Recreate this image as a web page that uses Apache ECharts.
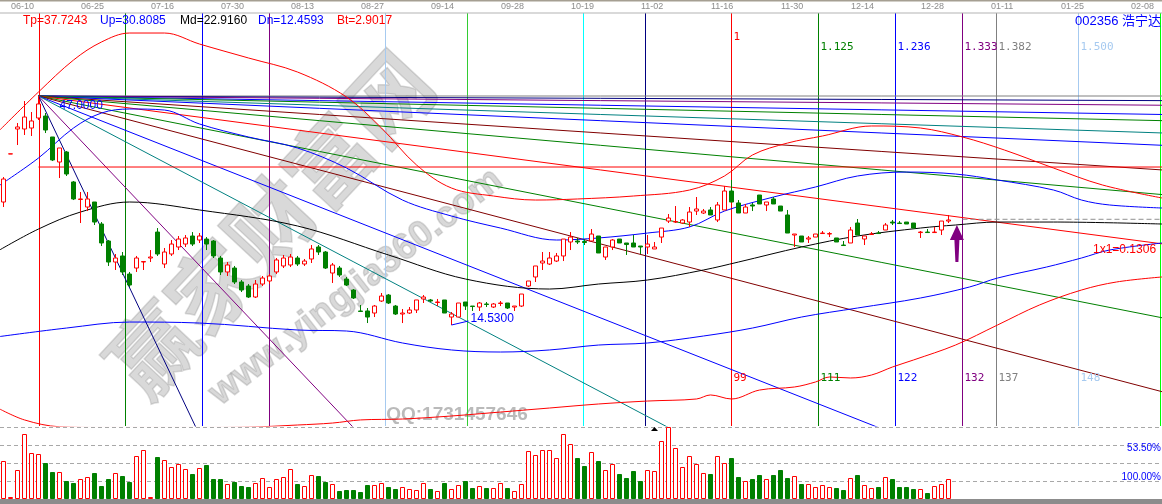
<!DOCTYPE html>
<html>
<head>
<meta charset="utf-8">
<title>002356 浩宁达</title>
<script src="https://cdn.jsdelivr.net/npm/echarts@6/dist/echarts.min.js"></script>
<style>
html,body{margin:0;padding:0;background:#fff;overflow:hidden;}
#chart{width:1162px;height:504px;}
</style>
</head>
<body>
<div id="chart"></div>
<script>
// ---------------- data ----------------
const SLOT_COUNT = 166;               // trading-day slots across the window (incl. projection)
const dateTicks = [[1,'06-10'],[11,'06-25'],[21,'07-16'],[31,'07-30'],[41,'08-13'],[51,'08-27'],
  [61,'09-14'],[71,'09-28'],[81,'10-19'],[91,'11-02'],[101,'11-16'],[111,'11-30'],[121,'12-14'],
  [131,'12-28'],[141,'01-11'],[151,'01-25'],[161,'02-08']];

// daily bars: [open, close, low, high]
const ohlc = [
[31.97,35.23,31.26,35.51],[38.78,38.80,38.78,38.80],[42.32,42.61,40.05,43.17],[42.32,44.02,41.47,46.29],
[42.46,43.46,41.33,44.73],[43.88,45.87,43.60,47.00],[44.16,42.18,41.75,44.59],[41.19,37.93,37.78,41.19],
[37.64,39.63,35.37,39.63],[39.06,35.94,35.66,39.20],[34.81,32.40,32.25,34.95],[32.33,32.40,28.99,33.39],
[31.26,32.40,30.69,33.39],[31.97,29.13,28.71,31.97],[28.85,26.16,25.73,29.13],[26.44,23.46,22.90,26.58],
[23.46,24.03,22.33,24.60],[24.32,22.05,21.62,24.88],[21.76,20.20,19.92,22.05],[22.61,24.03,22.05,24.32],
[23.46,23.53,22.33,23.53],[24.03,24.17,23.46,25.16],[27.71,24.60,24.32,28.28],[23.18,24.88,22.61,25.45],
[24.60,26.01,24.32,26.58],[25.59,26.72,25.16,27.15],[26.01,26.87,25.59,27.29],[27.15,26.01,25.73,27.71],
[26.58,27.15,26.16,27.57],[26.72,26.01,25.16,27.00],[26.44,24.32,24.03,26.58],[24.03,22.05,21.62,24.32],
[22.05,23.04,21.48,23.46],[22.61,20.63,20.34,22.90],[20.63,19.49,19.21,20.91],[20.06,18.50,18.36,20.34],
[18.50,20.34,18.36,20.91],[20.34,21.19,20.06,21.48],[20.77,21.48,20.34,21.76],[22.05,23.75,21.76,24.03],
[22.90,24.03,22.61,24.46],[23.04,24.17,22.75,24.60],[24.03,23.18,22.90,24.32],[23.18,23.60,22.90,23.89],
[23.89,25.31,23.32,25.87],[25.59,24.88,24.46,25.87],[24.88,22.61,22.47,25.02],[21.90,23.04,20.49,23.32],
[22.61,21.62,21.34,22.90],[21.05,20.20,20.06,21.34],[19.49,18.36,18.22,19.63],[16.52,16.45,16.37,17.37],
[16.52,15.66,14.81,16.94],[16.23,17.22,15.66,17.37],[17.93,18.64,17.79,19.07],[18.78,17.65,17.51,18.92],
[17.22,16.09,15.95,17.37],[16.09,16.23,14.81,16.80],[16.23,16.66,16.09,17.08],[16.66,18.08,16.23,18.08],
[18.22,18.50,17.65,18.78],[18.08,17.93,17.79,18.22],[17.72,17.79,17.22,18.22],[18.08,16.23,16.23,18.08],
[15.66,16.09,14.53,16.37],[15.66,17.65,15.66,17.65],[17.79,17.22,16.66,17.79],[17.22,17.15,16.52,17.22],
[17.08,17.65,16.52,17.79],[17.51,17.44,17.08,17.79],[17.08,17.51,16.94,17.65],[17.58,17.65,17.22,17.93],
[17.65,16.94,16.80,17.65],[17.08,17.22,16.52,17.22],[17.22,18.92,17.08,18.92],[20.06,20.77,19.92,20.77],
[21.34,22.90,20.63,22.90],[23.32,23.60,22.33,24.88],[23.18,24.03,23.04,24.88],[23.60,24.32,23.46,24.74],
[24.32,26.72,23.60,26.72],[26.30,27.00,25.16,27.71],[26.44,26.30,26.01,26.87],[26.37,26.23,25.87,26.72],
[26.44,27.43,26.44,28.14],[27.15,24.74,24.74,27.15],[24.17,25.59,23.75,25.59],[25.59,26.58,25.16,26.72],
[26.72,26.16,26.16,26.72],[26.16,25.94,24.46,26.16],[26.16,25.59,25.59,27.29],[25.73,25.59,24.60,25.73],
[25.59,26.01,24.60,27.29],[25.31,25.59,25.31,26.30],[27.00,28.28,26.16,28.28],[29.27,29.70,28.99,30.27],
[29.13,29.20,28.99,31.40],[28.99,29.42,28.85,29.56],[29.13,30.55,28.43,31.26],[30.69,30.98,30.13,32.68],
[30.41,30.69,30.27,30.98],[30.84,30.13,30.13,31.26],[29.42,31.55,29.13,31.97],[30.84,33.53,30.84,34.24],
[33.53,31.97,31.97,35.09],[31.83,30.41,30.41,32.25],[30.41,31.26,30.41,31.69],[31.55,31.40,30.69,31.83],
[32.96,31.69,31.69,32.96],[31.55,31.97,30.69,31.97],[32.40,31.69,31.69,32.68],[31.40,30.69,30.69,31.40],
[30.13,27.57,27.57,30.84],[27.29,27.43,25.59,27.43],[27.15,26.30,26.30,27.15],[26.72,26.87,26.16,27.15],
[27.00,27.43,27.00,27.43],[27.50,27.57,27.43,27.86],[27.43,27.50,27.00,27.71],[26.87,26.30,26.30,26.87],
[25.87,25.80,25.80,26.44],[26.16,28.00,26.16,28.43],[28.99,27.29,27.29,29.56],[26.72,27.15,25.87,27.15],
[27.36,27.43,27.36,27.71],[27.57,27.50,27.50,27.86],[28.00,28.71,28.00,28.99],[29.13,28.99,28.71,29.42],
[28.99,28.92,28.85,29.27],[29.13,28.85,28.85,29.13],[28.99,28.28,28.28,28.99],[27.64,27.71,26.87,27.86],
[27.71,27.64,27.64,28.14],[27.64,27.71,27.64,28.43],[28.00,29.27,27.29,29.27],[29.27,29.42,28.99,30.13]
];

// daily volume (thousand lots)
const volume = [38,2,29,65,46,45,36,27,27,18,16,20,22,26,13,20,26,23,17,43,49,2,42,39,32,35,30,25,31,34,
  20,20,15,17,13,12,16,21,12,20,22,30,15,13,24,23,17,15,8,9,9,7,14,14,16,12,10,12,10,9,
  16,10,8,16,10,14,18,11,13,11,11,16,11,8,15,48,44,49,49,41,65,55,41,33,47,38,29,35,25,21,
  28,18,29,28,58,72,51,32,43,35,26,25,43,36,41,22,18,20,24,20,24,29,21,23,15,15,12,14,12,11,
  9,21,24,14,11,12,22,20,12,12,10,10,6,13,15,20];

// channel bands: [slot, price]
const bandTp = [[-0.5,42.2],[5,47.57],[10,52.10],[14,54.66],[18,55.93],[23,55.93],[28,54.37],[35,52.39],
  [42,50.40],[49,46.86],[54,42.46],[59,37.22],[64,33.95],[70,32.82],[76,32.25],[82,32.40],[90,32.82],
  [98,33.67],[103,35.66],[107,38.64],[112,40.33],[117,41.33],[124,42.75],[131,42.46],[137,41.19],
  [143,39.34],[150,36.79],[157,34.38],[165.5,32.54]];
const bandUp = [[-0.5,34.38],[5,38.21],[10,42.46],[14,44.59],[18,45.16],[23,45.01],[28,43.03],[35,41.19],
  [42,39.63],[49,36.79],[57,32.25],[64,29.98],[71,28.28],[79,26.58],[85,26.87],[92,27.57],[98,28.43],
  [103,30.69],[110,32.68],[116,34.10],[122,35.66],[129,36.22],[136,35.94],[142,35.09],[150,33.67],
  [154,32.25],[158,31.55],[165.5,31.12]];
const bandMd = [[-0.5,25.2],[5,28.14],[11,30.55],[18,31.97],[28,30.84],[42,28.57],[55,24.46],[66,21.05],
  [78,19.63],[85,20.34],[92,20.91],[100,22.33],[105,23.46],[114,25.59],[122,27.15],[131,28.28],
  [136,28.71],[142,29.13],[150,29.13],[165.5,28.85]];
const bandDn = [[-0.5,12.9],[9,14.10],[18,14.95],[28,14.81],[42,13.82],[49,13.68],[57,11.98],[64,10.99],
  [71,10.70],[78,10.99],[85,11.69],[92,11.98],[100,12.97],[107,14.10],[114,15.66],[122,16.94],
  [131,18.36],[138,19.92],[142,21.19],[149,22.75],[154,24.03],[158,25.16],[165.5,26.16]];
const bandBt = [[-0.5,2.6],[3,1.07],[8,0.1],[14,0.0],[21,0.0],[28,0.0],[35,0.05],[42,0.35],[47,0.63],
  [51,1.07],[57,1.20],[64,1.63],[71,2.19],[78,2.76],[85,3.33],[92,3.75],[99,4.04],[101,4.61],[104,4.04],
  [108,5.31],[113,5.74],[116,6.45],[118,7.16],[121,7.02],[124,7.44],[127,8.58],[130,9.57],[136,11.69],
  [142,14.53],[148,17.37],[154,19.49],[159,20.63],[165.5,21.34]];

// Gann fan from the swing high
const pivotHigh = [5, 47.00];
const pivotLow = [64, 14.53];
const gannUnit = 0.1306;              // 1x1 slope, price per day
const fanRatios = [0, 1/32, 1/16, 1/8, 1/6, 1/4, 1/3, 1/2, 2/3, 1, 1.5, 2, 3, 4, 8, 16];
const fanColors = ['#808080','#000080','#800080','#0000ff','#008000','#008080','#0000ff','#800000',
  '#008000','#ff0000','#008000','#800000','#0000ff','#008080','#800080','#000080'];

// Fibonacci time zones measured from the high
const timeSpan = 99;
const timeRatios = [0,0.125,0.236,0.333,0.5,0.618,0.786,0.875,1,1.125,1.236,1.333,1.382,1.5,1.618];
const timeColors = ['#ff0000','#008000','#0000ff','#800080','#a6caf0','#33cc33','#00ffff','#000080',
  '#ff0000','#008000','#0000ff','#800080','#808080','#a6caf0','#00ff00'];
const timeTopLabels = {8:'1',9:'1.125',10:'1.236',11:'1.333',12:'1.382',13:'1.500'};
const timeBottomLabels = {8:'99',9:'111',10:'122',11:'132',12:'137',13:'148'};

const levelLine = 36.93;
const lastRefLine = 29.52;
const indicatorReadout = [['Tp=37.7243','#ff0000'],['Up=30.8085','#0000ff'],['Md=22.9160','#000000'],
  ['Dn=12.4593','#0000ff'],['Bt=2.9017','#ff0000']];
const volumeScaleLabels = [[54,'53.50%'],[18,'100.00%']];

// ---------------- chart ----------------
const slots = Array.from({length: SLOT_COUNT}, (_, i) => String(i));
const upColor = '#ff0000', downColor = '#008000';

const volData = volume.map((v, i) => {
  const up = ohlc[i][1] >= ohlc[i][0];
  return {value: v, itemStyle: up
    ? {color: '#ffffff', borderColor: upColor, borderWidth: 1}
    : {color: downColor, borderColor: downColor, borderWidth: 1}};
});

function bandSeries(data, color) {
  return {type: 'line', xAxisIndex: 1, yAxisIndex: 0, data, smooth: 0.35, symbol: 'none',
    lineStyle: {color, width: 1}, z: 3, silent: true};
}

const fanSeries = fanRatios.map((k, n) => ({
  type: 'line', xAxisIndex: 1, yAxisIndex: 0, symbol: 'none', silent: true, z: 2,
  lineStyle: {color: fanColors[n], width: 1},
  data: [pivotHigh, [SLOT_COUNT - 0.5, pivotHigh[1] - k * gannUnit * (SLOT_COUNT - 0.5 - pivotHigh[0])]]
}));

const option = {
  animation: false,
  backgroundColor: '#ffffff',
  grid: [
    {left: 0, right: 0, top: 13, height: 413},
    {left: 0, right: 0, top: 427, height: 72}
  ],
  xAxis: [
    {type: 'category', gridIndex: 0, data: slots, boundaryGap: true, show: false},
    {type: 'value', gridIndex: 0, min: -0.5, max: SLOT_COUNT - 0.5, show: false},
    {type: 'category', gridIndex: 1, data: slots, boundaryGap: true, show: false}
  ],
  yAxis: [
    {type: 'value', gridIndex: 0, min: 0.21, max: 58.77, show: false, scale: true},
    {type: 'value', gridIndex: 1, min: 0, max: 72, interval: 18,
      axisLine: {show: false}, axisTick: {show: false}, axisLabel: {show: false},
      splitLine: {show: true, lineStyle: {color: '#a8a8a8', type: [4, 3], width: 1}}}
  ],
  series: [
    ...fanSeries,
    {type: 'line', xAxisIndex: 1, yAxisIndex: 0, symbol: 'none', silent: true, z: 2,
      lineStyle: {color: '#ff0000', width: 1},
      data: [[pivotHigh[0], levelLine], [SLOT_COUNT - 0.5, levelLine]]},
    {type: 'line', xAxisIndex: 1, yAxisIndex: 0, symbol: 'none', silent: true, z: 2,
      lineStyle: {color: '#909090', width: 1, type: [5, 3]},
      data: [[137, lastRefLine], [SLOT_COUNT - 0.5, lastRefLine]]},
    bandSeries(bandTp, '#ff0000'),
    bandSeries(bandUp, '#0000ff'),
    bandSeries(bandMd, '#000000'),
    bandSeries(bandDn, '#0000ff'),
    bandSeries(bandBt, '#ff0000'),
    {type: 'candlestick', xAxisIndex: 0, yAxisIndex: 0, data: ohlc, barWidth: 5, z: 6, silent: true,
      itemStyle: {color: '#ffffff', color0: downColor, borderColor: upColor, borderColor0: downColor,
        borderColorDoji: upColor, borderWidth: 1}},
    {type: 'bar', xAxisIndex: 2, yAxisIndex: 1, data: volData, barWidth: 5, z: 6, silent: true}
  ]
};

const chart = echarts.init(document.getElementById('chart'), null, {renderer: 'canvas'});
chart.setOption(option);

// ---------------- annotations ----------------
const X = v => chart.convertToPixel({xAxisIndex: 1}, v);
const Y = v => chart.convertToPixel({yAxisIndex: 0}, v);
const VY = v => chart.convertToPixel({yAxisIndex: 1}, v);
const font = (size, fam, weight) => `${weight || 'normal'} ${size}px ${fam || '"Liberation Sans", Arial, sans-serif'}`;
const g = [];

// watermark
g.push({type: 'text', x: 270, y: 224, rotation: 47 * Math.PI / 180, z: 0, silent: true,
  style: {text: '赢家财富网', font: font(86, '"Noto Sans CJK SC", sans-serif', 'bold'),
    fill: 'rgba(150,150,150,0.36)', stroke: 'rgba(110,110,110,0.25)', lineWidth: 1.5,
    align: 'center', verticalAlign: 'middle'}});
g.push({type: 'text', x: 356, y: 287, rotation: 38 * Math.PI / 180, z: 0, silent: true,
  style: {text: 'www.yingjia360.com', font: font(37, null, 'bold'),
    fill: 'rgba(150,150,150,0.36)', stroke: 'rgba(110,110,110,0.25)', lineWidth: 1.5,
    align: 'center', verticalAlign: 'middle'}});
g.push({type: 'text', x: 457, y: 415, z: 0, silent: true,
  style: {text: 'QQ:1731457646', font: font(19, null, 'bold'), fill: 'rgba(140,140,140,0.6)',
    align: 'center', verticalAlign: 'middle'}});

// Fibonacci time zone verticals (snapped to whole pixels so each keeps its colour)
const paneTop = Y(58.77), paneBottom = Y(0.21);
timeRatios.forEach((r, n) => {
  const x = Math.round(X(pivotHigh[0] + r * timeSpan)) + 0.5;
  g.push({type: 'line', z: 1, silent: true, shape: {x1: x, y1: paneTop, x2: x, y2: paneBottom},
    style: {stroke: timeColors[n], lineWidth: 1}});
  if (timeTopLabels[n]) g.push({type: 'text', x: x + 2, y: n === 8 ? 37 : 47, z: 50, silent: true,
    style: {text: timeTopLabels[n], font: font(11, '"DejaVu Sans Mono", monospace'), fill: timeColors[n],
      align: 'left', verticalAlign: 'middle'}});
  if (timeBottomLabels[n]) g.push({type: 'text', x: x + 2, y: 378, z: 50, silent: true,
    style: {text: timeBottomLabels[n], font: font(11, '"DejaVu Sans Mono", monospace'), fill: timeColors[n],
      align: 'left', verticalAlign: 'middle'}});
});

// date strip
g.push({type: 'rect', shape: {x: 0, y: 0, width: 1162, height: 1.5}, style: {fill: '#a59f92'}, z: 50});
g.push({type: 'rect', shape: {x: 0, y: 12.5, width: 1162, height: 1}, style: {fill: '#b4b4b4'}, z: 50});
dateTicks.forEach(([s, t]) => g.push({type: 'text', x: X(s) + 0.5, y: 7, z: 50, silent: true,
  style: {text: t, font: font(9), fill: '#8c8c8c', align: 'left', verticalAlign: 'middle'}}));

// indicator readout
const readoutX = [23, 100, 180, 258, 337];
indicatorReadout.forEach(([t, c], n) => {
  g.push({type: 'text', x: readoutX[n], y: 21, z: 50, silent: true,
    style: {text: t, font: font(12), fill: c, align: 'left', verticalAlign: 'middle'}});
});
g.push({type: 'text', x: 1161, y: 21, z: 50, silent: true,
  style: {text: '002356 浩宁达', font: font(13, '"Liberation Sans","Noto Sans CJK SC",sans-serif'),
    fill: '#0000ff', align: 'right', verticalAlign: 'middle'}});

// swing labels
const hx0 = X(pivotHigh[0]), hy0 = Y(pivotHigh[1]);
g.push({type: 'text', x: hx0 + 21, y: hy0 + 10, z: 50, silent: true,
  style: {text: pivotHigh[1].toFixed(4), font: font(12), fill: '#0000ff', align: 'left', verticalAlign: 'middle'}});
const lx0 = X(pivotLow[0]), ly0 = Y(pivotLow[1]);
g.push({type: 'line', shape: {x1: lx0, y1: ly0, x2: lx0 + 17, y2: ly0 - 4}, style: {stroke: '#0000ff', lineWidth: 1}, z: 50});
g.push({type: 'text', x: lx0 + 19, y: ly0 - 6, z: 50, silent: true,
  style: {text: pivotLow[1].toFixed(4), font: font(12), fill: '#0000ff', align: 'left', verticalAlign: 'middle'}});

// 1x1 slope label
g.push({type: 'text', x: 1093, y: 250, z: 50, silent: true,
  style: {text: '1x1=' + gannUnit.toFixed(4), font: font(12), fill: '#ff0000', align: 'left', verticalAlign: 'middle'}});

// purple arrow under the last bars
const ax = X(136.2), ay = Y(28.71);
g.push({type: 'polygon', z: 50, silent: true, shape: {points: [
  [ax, ay], [ax + 7, ay + 15], [ax + 2.5, ay + 15], [ax + 1.5, ay + 37], [ax - 1.5, ay + 37], [ax - 2.5, ay + 15], [ax - 7, ay + 15]
]}, style: {fill: '#800080'}});

// marker at top of the volume pane
const tx = X(93), ty = VY(72);
g.push({type: 'polygon', z: 50, silent: true, shape: {points: [[tx, ty], [tx + 3.5, ty + 4], [tx - 3.5, ty + 4]]}, style: {fill: '#000000'}});

// volume pane labels and baseline
volumeScaleLabels.forEach(([v, t], n) => g.push({type: 'text', x: 1161, y: VY(v) + (n === 0 ? 3.5 : -4), z: 50, silent: true,
  style: {text: t, font: font(10), fill: '#0000ff', align: 'right', verticalAlign: 'middle'}}));
g.push({type: 'rect', shape: {x: 0, y: VY(0), width: 1162, height: 6}, style: {fill: '#8c8c8c'}, z: 50});

chart.setOption({graphic: g});
</script>
</body>
</html>
